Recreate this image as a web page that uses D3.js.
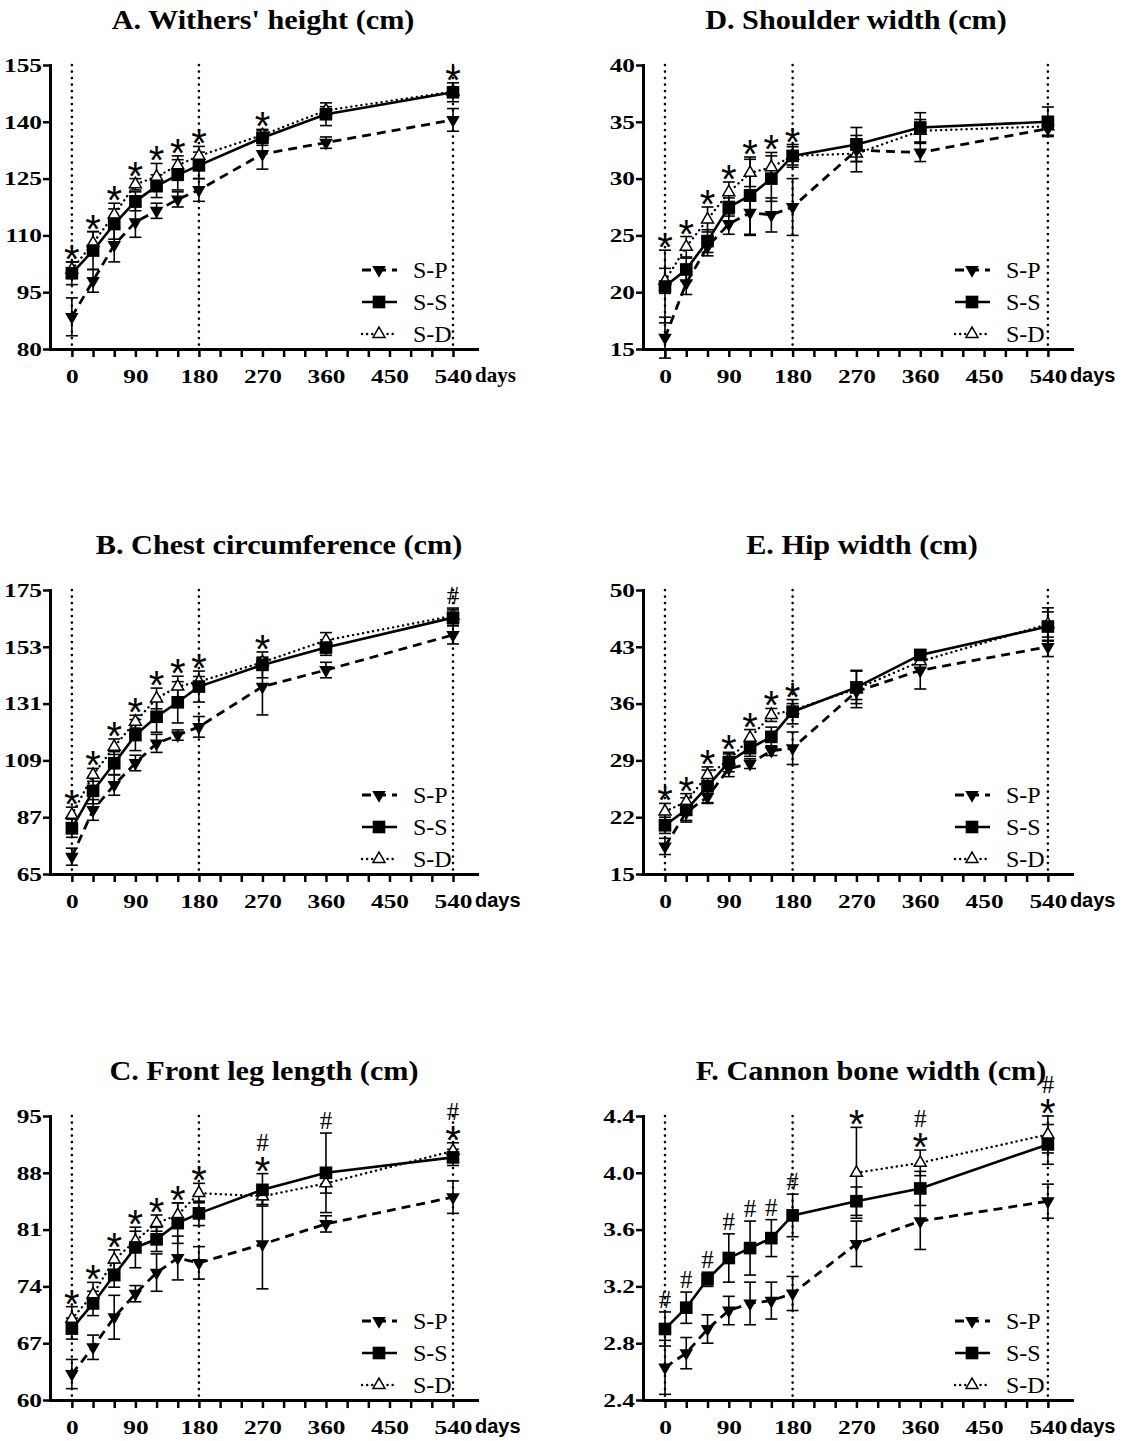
<!DOCTYPE html>
<html>
<head>
<meta charset="utf-8">
<script src="https://cdn.jsdelivr.net/npm/d3@7"></script>
<style>
  body { margin: 0; background: #fff; }
</style>
</head>
<body>
<div id="chart"></div>
<script>
// sampling days (x values)
var days = [0, 30, 60, 90, 120, 150, 180, 270, 360, 540];
var dayTicks = d3.range(0, 541, 30);
var guideDays = [0, 180, 540];

// A. Withers' height
var witherSP = [88.5, 98, 107.5, 113.5, 116.5, 119.5, 122, 131.5, 134.5, 140.5];
var witherSS = [100, 106, 113, 119, 123, 126, 128.5, 135.8, 142, 147.8];
var witherSD = [101, 108, 115.5, 123.5, 125.5, 128.5, 131, 136.5, 143, 148];
var witherSPerr = [5, 3, 4.5, 4, 2, 2, 3, 4, 1.5, 3];
var witherSSerr = [3, 5, 4, 2.5, 3, 4, 3.5, 2, 3, 2.5];
var witherSDerr = [2, 3, 3, 1.5, 3.5, 2.5, 2.5, 1.5, 1, 1];
var witherSig = ["*", "*", "*", "*", "*", "*", "*", "*", "", "*"];
var witherTicks = [80, 95, 110, 125, 140, 155];

// B. Chest circumference
var chestSP = [71.7, 89.8, 99.5, 108, 115.6, 118.8, 122, 137.6, 144, 157.6];
var chestSS = [82.7, 97.2, 107.9, 118.8, 125.9, 131.5, 137.6, 146, 152.7, 164.3];
var chestSD = [87.9, 103.4, 114.3, 124, 133, 137.6, 139.5, 147, 155.5, 165];
var chestSPerr = [3.3, 4, 4, 3, 3.5, 2, 4, 11, 3, 3.5];
var chestSSerr = [3.5, 5, 4.5, 6, 6, 8, 6, 5, 3, 3];
var chestSDerr = [3, 2.5, 3, 2.5, 4, 4, 2, 2, 3, 3];
var chestSig = ["*", "*", "*", "*", "*", "*", "*", "*", "", "#"];
var chestTicks = [65, 87, 109, 131, 153, 175];

// C. Front leg length
var legSP = [63.2, 66.5, 70.2, 73.1, 75.7, 77.5, 76.9, 79.2, 81.7, 85.0];
var legSS = [68.8, 71.9, 75.4, 78.8, 79.8, 81.8, 83.0, 85.9, 88.0, 89.9];
var legSD = [70.0, 73.0, 77.3, 79.6, 81.8, 82.8, 85.5, 85.1, 86.7, 90.7];
var legSPerr = [1.8, 1.5, 2.7, 1.0, 2.3, 2.7, 2.0, 5.5, 1.0, 2.0];
var legSSerr = [1.3, 1.5, 1.5, 2.5, 1.5, 2.5, 1.5, 2.0, 4.9, 1.0];
var legSDerr = [1.5, 1.5, 1.2, 1.2, 1.0, 1.5, 1.2, 1.0, 1.2, 1.0];
var legSig = ["*", "*", "*", "*", "*", "*", "*", "*#", "#", "*#"];
var legTicks = [60, 67, 74, 81, 88, 95];

// D. Shoulder width
var shoulderSP = [16.0, 20.8, 24.0, 26.0, 27.0, 26.8, 27.5, 32.5, 32.3, 34.4];
var shoulderSS = [20.5, 22.0, 24.5, 27.5, 28.5, 30.0, 32.0, 33.0, 34.5, 35.0];
var shoulderSD = [21.0, 24.0, 26.4, 28.8, 30.5, 31.0, 32.0, 32.2, 34.2, 34.6];
var shoulderSPerr = [1.8, 1.0, 0.8, 0.9, 2.0, 1.5, 2.5, 1.0, 0.8, 0.6];
var shoulderSSerr = [3.2, 1.0, 1.0, 0.8, 3.4, 2.0, 1.0, 1.5, 1.3, 1.3];
var shoulderSDerr = [1.1, 0.9, 1.1, 0.9, 1.2, 1.3, 0.8, 1.6, 1.0, 0.8];
var shoulderSig = ["*", "*", "*", "*", "*", "*", "*", "", "", ""];
var shoulderTicks = [15, 20, 25, 30, 35, 40];

// E. Hip width
var hipSP = [18.4, 22.6, 24.5, 28.0, 28.6, 30.2, 30.5, 37.5, 40.1, 43.0];
var hipSS = [21.0, 22.9, 25.8, 28.8, 30.5, 31.9, 35.0, 38.0, 42.0, 45.5];
var hipSD = [22.7, 23.9, 27.2, 29.0, 31.8, 34.6, 35.2, 37.8, 41.2, 45.8];
var hipSPerr = [1.0, 1.0, 0.8, 1.0, 0.6, 0.6, 2.0, 1.0, 2.3, 1.2];
var hipSSerr = [1.0, 1.5, 2.0, 1.2, 1.0, 1.2, 1.5, 2.0, 0.6, 1.8];
var hipSDerr = [1.0, 1.0, 1.0, 0.8, 1.0, 0.8, 0.8, 2.3, 0.8, 2.0];
var hipSig = ["*", "*", "*", "*", "*", "*", "*", "", "", ""];
var hipTicks = [15, 22, 29, 36, 43, 50];

// F. Cannon bone width
var boneSP = [2.63, 2.73, 2.90, 3.03, 3.08, 3.10, 3.15, 3.50, 3.66, 3.80];
var boneSS = [2.90, 3.05, 3.25, 3.40, 3.47, 3.54, 3.70, 3.80, 3.89, 4.20];
var boneSD = [null, null, null, null, null, null, null, 4.00, 4.07, 4.27];
var boneSPerr = [0.19, 0.11, 0.1, 0.1, 0.15, 0.13, 0.12, 0.16, 0.2, 0.12];
var boneSSerr = [0.12, 0.11, 0.05, 0.17, 0.19, 0.13, 0.15, 0.1, 0.12, 0.14];
var boneSDerr = [null, null, null, null, null, null, null, 0.32, 0.09, 0.13];
var boneSig = ["#", "#", "#", "#", "#", "#", "#", "*", "*#", "*#"];
var boneTicks = [2.4, 2.8, 3.2, 3.6, 4.0, 4.4];

var panels = [
  {title: "A. Withers' height (cm)", col: 0, row: 0, titleX: 263, ticks: witherTicks, fmt: d3.format("d"),
   sp: witherSP, ss: witherSS, sd: witherSD, spErr: witherSPerr, ssErr: witherSSerr, sdErr: witherSDerr, sig: witherSig, serifDays: true},
  {title: "B. Chest circumference (cm)", col: 0, row: 1, titleX: 279, ticks: chestTicks, fmt: d3.format("d"),
   sp: chestSP, ss: chestSS, sd: chestSD, spErr: chestSPerr, ssErr: chestSSerr, sdErr: chestSDerr, sig: chestSig},
  {title: "C. Front leg length (cm)", col: 0, row: 2, titleX: 264, ticks: legTicks, fmt: d3.format("d"),
   sp: legSP, ss: legSS, sd: legSD, spErr: legSPerr, ssErr: legSSerr, sdErr: legSDerr, sig: legSig},
  {title: "D. Shoulder width (cm)", col: 1, row: 0, titleX: 856, ticks: shoulderTicks, fmt: d3.format("d"),
   sp: shoulderSP, ss: shoulderSS, sd: shoulderSD, spErr: shoulderSPerr, ssErr: shoulderSSerr, sdErr: shoulderSDerr, sig: shoulderSig},
  {title: "E. Hip width (cm)", col: 1, row: 1, titleX: 862, ticks: hipTicks, fmt: d3.format("d"),
   sp: hipSP, ss: hipSS, sd: hipSD, spErr: hipSPerr, ssErr: hipSSerr, sdErr: hipSDerr, sig: hipSig},
  {title: "F. Cannon bone width (cm)", col: 1, row: 2, titleX: 871, ticks: boneTicks, fmt: d3.format(".1f"),
   sp: boneSP, ss: boneSS, sd: boneSD, spErr: boneSPerr, ssErr: boneSSerr, sdErr: boneSDerr, sig: boneSig}
];

var W = 1133, H = 1441;
var colAxis = [50, 643], colEnd = [477, 1072];
var rowTop = [65, 590, 1116];
var plotH = 284;
var serif = "'Liberation Serif', 'Times New Roman', serif";
var sans = "'Liberation Sans', Arial, sans-serif";
var txtScale = 1.3;

var svg = d3.select("#chart").append("svg")
    .attr("width", W)
    .attr("height", H);

// marker shapes for each group
function addMarker(sel, kind) {
  if (kind == "square") {
    sel.append("path").attr("d", d3.symbol(d3.symbolSquare, 160)()).attr("fill", "#000");
  } else if (kind == "down") {
    sel.append("path").attr("d", d3.symbol(d3.symbolTriangle, 80)())
      .attr("transform", "rotate(180)").attr("fill", "#000");
  } else {
    sel.append("path").attr("d", d3.symbol(d3.symbolTriangle, 62)())
      .attr("fill", "#fff").attr("stroke", "#000").attr("stroke-width", 1.5);
  }
}

function drawPanel(p) {
  var x0 = colAxis[p.col], xEnd = colEnd[p.col];
  var top = rowTop[p.row], bottom = top + plotH;
  var ext = d3.extent(p.ticks);

  var x = d3.scaleLinear().domain([-31, 574]).range([x0, xEnd]);
  var y = d3.scaleLinear().domain(ext).range([bottom, top]);
  var g = svg.append("g");

  // title
  g.append("text")
    .attr("transform", "translate(" + p.titleX + "," + (top - 36) + ") scale(1.08,1)")
    .attr("text-anchor", "middle")
    .style("font-family", serif).style("font-weight", "bold").style("font-size", "28px")
    .text(p.title);

  // dotted guide lines at 0, 180, 540 days
  g.selectAll(".guide").data(guideDays).enter().append("line")
    .attr("x1", function(d) { return x(d); })
    .attr("x2", function(d) { return x(d); })
    .attr("y1", top).attr("y2", bottom)
    .attr("stroke", "#000").attr("stroke-width", 2.6)
    .attr("stroke-dasharray", "0.1,6.4").attr("stroke-linecap", "round");

  // axes
  var gy = g.append("g").attr("transform", "translate(" + x0 + ",0)")
    .call(d3.axisLeft(y).tickValues(p.ticks).tickFormat(p.fmt).tickSize(7).tickSizeOuter(0).tickPadding(1));
  var gx = g.append("g").attr("transform", "translate(0," + bottom + ")")
    .call(d3.axisBottom(x).tickValues(dayTicks)
      .tickFormat(function(d) { return d % 90 === 0 ? d : ""; })
      .tickSize(8).tickSizeOuter(0).tickPadding(12));
  [gx, gy].forEach(function(a) {
    a.select(".domain").attr("stroke-width", 3).attr("stroke-linecap", "square");
    a.selectAll(".tick line").attr("stroke-width", 2.5);
    a.selectAll("text")
      .style("font-family", serif).style("font-weight", "bold").style("font-size", "19.5px")
      .attr("fill", "#000");
  });
  gy.selectAll("text").attr("x", -8 / txtScale).attr("transform", "scale(" + txtScale + ",1)");
  gx.selectAll("text").attr("transform", "scale(" + txtScale + ",1)");

  g.append("text")
    .attr("x", x(540) + 22).attr("y", bottom + 33)
    .style("font-family", p.serifDays ? serif : sans)
    .style("font-weight", "bold")
    .style("font-size", p.serifDays ? "21px" : "20px")
    .text("days");

  var series = [
    {name: "S-D", vals: p.sd, errs: p.sdErr, dash: "0.1,5", width: 2.4, kind: "open"},
    {name: "S-S", vals: p.ss, errs: p.ssErr, dash: null, width: 2.6, kind: "square"},
    {name: "S-P", vals: p.sp, errs: p.spErr, dash: "9,6", width: 2.8, kind: "down"}
  ];

  series.forEach(function(s) {
    s.pts = days.map(function(d, i) { return {day: d, v: s.vals[i], e: s.errs[i]}; })
      .filter(function(d) { return d.v != null; });
  });

  var line = d3.line()
    .x(function(d) { return x(d.day); })
    .y(function(d) { return y(d.v); });

  // lines
  series.forEach(function(s) {
    g.append("path")
      .attr("d", line(s.pts))
      .attr("fill", "none").attr("stroke", "#000")
      .attr("stroke-width", s.width)
      .attr("stroke-dasharray", s.dash)
      .attr("stroke-linecap", s.dash == "0.1,5" ? "round" : "butt");
  });

  // error bars
  series.forEach(function(s) {
    var eb = g.append("g").selectAll("g").data(s.pts).enter().append("g")
      .attr("stroke", "#000").attr("stroke-width", 1.6);
    eb.append("line")
      .attr("x1", function(d) { return x(d.day); })
      .attr("x2", function(d) { return x(d.day); })
      .attr("y1", function(d) { return y(d.v - d.e); })
      .attr("y2", function(d) { return y(d.v + d.e); });
    [-1, 1].forEach(function(sg) {
      eb.append("line")
        .attr("x1", function(d) { return x(d.day) - 6; })
        .attr("x2", function(d) { return x(d.day) + 6; })
        .attr("y1", function(d) { return y(d.v + sg * d.e); })
        .attr("y2", function(d) { return y(d.v + sg * d.e); });
    });
  });

  // markers
  series.forEach(function(s) {
    var m = g.append("g").selectAll("g").data(s.pts).enter().append("g")
      .attr("transform", function(d) { return "translate(" + x(d.day) + "," + y(d.v) + ")"; });
    addMarker(m, s.kind);
  });

  // significance marks (* and #) stacked above the highest error bar, one text per day
  days.forEach(function(d, i) {
    var mark = p.sig[i];
    if (!mark) return;
    var tops = series.filter(function(s) { return s.vals[i] != null; })
      .map(function(s) { return s.vals[i] + s.errs[i]; });
    var yTop = y(d3.max(tops));
    var t = g.append("text").attr("text-anchor", "middle");
    mark.split("").forEach(function(c, k) {
      var cy = yTop - 12 - 19 * k;
      if (c == "*") {
        t.append("tspan").attr("x", x(d)).attr("y", cy + 23)
          .style("font-family", sans).style("font-size", "40px")
          .text("*");
      } else {
        t.append("tspan").attr("x", x(d)).attr("y", cy + 8)
          .style("font-family", serif).style("font-size", "25px")
          .text("#");
      }
    });
  });

  // legend
  var lx = x0 + 22;
  var legendRows = [series[2], series[1], series[0]];
  legendRows.forEach(function(s, k) {
    var ly = top + 205 + 32 * k;
    g.append("line")
      .attr("x1", lx + 290).attr("x2", lx + 325)
      .attr("y1", ly).attr("y2", ly)
      .attr("stroke", "#000").attr("stroke-width", s.width)
      .attr("stroke-dasharray", s.dash)
      .attr("stroke-linecap", s.dash == "0.1,5" ? "round" : "butt");
    var mk = g.append("g").attr("transform", "translate(" + (lx + 307) + "," + ly + ")");
    addMarker(mk, s.kind);
    g.append("text")
      .attr("x", lx + 341).attr("y", ly + 8)
      .style("font-family", serif).style("font-size", "24px")
      .text(s.name);
  });
}

panels.forEach(drawPanel);
</script>
</body>
</html>
